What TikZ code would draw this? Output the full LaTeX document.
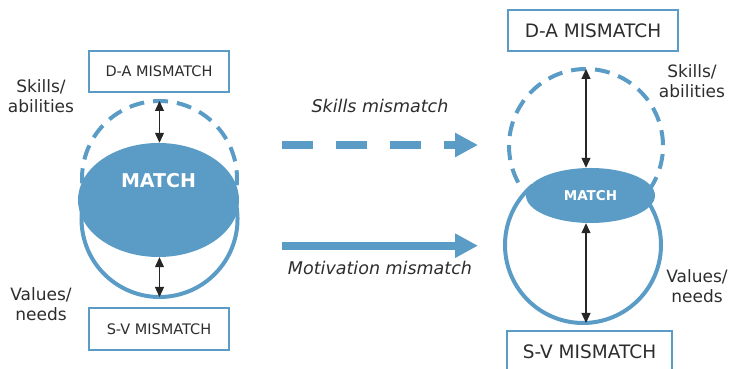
\documentclass[tikz,border=0pt]{standalone}
\usepackage{fontspec}
\setmainfont{DejaVu Sans}
\usetikzlibrary{arrows.meta,positioning,shapes.geometric}
\definecolor{fitblue}{RGB}{91,156,198}
\definecolor{labelgray}{RGB}{45,45,45}

\begin{document}
\begin{tikzpicture}[
    x=1pt, y=1pt,
    mismatchbox/.style={draw=fitblue, line width=1.2pt, fill=white, minimum width=140pt, minimum height=41pt, inner sep=0pt, text=labelgray, font=\fontsize{14.5}{17}\selectfont},
    bigbox/.style={mismatchbox, minimum width=170pt, font=\fontsize{18.5}{22}\selectfont},
    ringnode/.style={circle, draw=none, inner sep=0pt, outer sep=0pt},
    ringline/.style={fitblue, line width=4pt},
    dashring/.style={ringline, dash pattern=on 15pt off 9pt},
    matchblob/.style={ellipse, fill=fitblue, inner sep=0pt, text=white},
    matchtext/.style={text=white, font=\bfseries\fontsize{19}{22}\selectfont},
    sidelabel/.style={align=center, text=labelgray, font=\fontsize{17}{20}\selectfont},
    fitgap/.style={{Triangle[length=10pt,width=9pt]}-{Triangle[length=10pt,width=9pt]}, line width=1.2pt, black!85},
    mismatcharrow/.style={-{Triangle[length=23pt,width=23pt]}, line width=8pt, fitblue},
    arrowlabel/.style={text=labelgray, font=\itshape\fontsize{17.5}{20}\selectfont}
  ]
    \useasboundingbox (0,0) rectangle (732,369);
    \clip (0,0) rectangle (732,369);

    % Linke Seite
    \node[ringnode, minimum size=155pt] (skillsL) at (159.5,190.5) {};
    \node[ringnode, minimum size=156pt] (valuesL) at (159.5,150) {};
    \draw[dashring] (skillsL.-5) arc[start angle=-5, end angle=185, radius=77.5];
    \draw[ringline] (valuesL.15) arc[start angle=15, end angle=-195, radius=78];
    \node[matchblob, minimum width=161pt, minimum height=114pt,
          label={[matchtext, yshift=19pt]center:MATCH}] (matchL) at (158.5,169) {};
    \draw[fitgap] (matchL.north -| skillsL.north) -- (skillsL.north);
    \draw[fitgap] (matchL.south -| valuesL.south) -- (valuesL.south);
    \node[mismatchbox] (daL) at (159,297.5) {D-A MISMATCH};
    \node[mismatchbox, minimum height=42pt] (svL) at (159,40) {S-V MISMATCH};
    \node[sidelabel] (skillsTxtL) at (41,273) {Skills/\\abilities};
    \node[sidelabel] (valuesTxtL) at (41,65) {Values/\\needs};

    % Rechte Seite
    \node[ringnode, minimum size=154pt] (skillsR) at (586,223) {};
    \node[ringnode, minimum size=156pt] (valuesR) at (583,124) {};
    \draw[dashring] (skillsR.-35) arc[start angle=-35, end angle=210, radius=77];
    \draw[ringline] (valuesR.40) arc[start angle=40, end angle=-230, radius=78];
    \node[matchblob, minimum width=129pt, minimum height=55pt,
          font=\bfseries\fontsize{13.5}{16}\selectfont] (matchR) at (590.5,173.5) {MATCH};
    \draw[fitgap] (matchR.north -| skillsR.north) -- (skillsR.north);
    \draw[fitgap] (matchR.south -| skillsR.north) -- (skillsR.north |- valuesR.south);
    \node[bigbox] (daR) at (593,338.5) {D-A MISMATCH};
    \node[bigbox, minimum width=165pt] (svR) at (589.5,17.5) {S-V MISMATCH};
    \node[sidelabel] (skillsTxtR) at (692,288) {Skills/\\abilities};
    \node[sidelabel] (valuesTxtR) at (697,83) {Values/\\needs};

    % Pfeile
    \coordinate (skillsFrom) at (282,224);
    \coordinate (skillsTo) at (478,224);
    \coordinate (motivFrom) at (282,123.3);
    \coordinate (motivTo) at (478,123.3);
    \draw[mismatcharrow, dash pattern=on 31pt off 23pt] (skillsFrom) -- node[arrowlabel, above=25pt] {Skills mismatch} (skillsTo);
    \draw[mismatcharrow] (motivFrom) -- node[arrowlabel, below=8pt] {Motivation mismatch} (motivTo);
  \end{tikzpicture}
\end{document}
